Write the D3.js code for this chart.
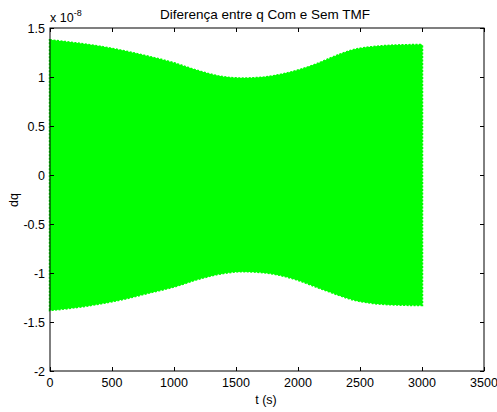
<!DOCTYPE html>
<html><head><meta charset="utf-8">
<script src="https://cdn.jsdelivr.net/npm/d3@7"></script>
<style>body{margin:0;background:#fff}svg{display:block}text{font-family:"Liberation Sans",Arial,sans-serif;fill:#000}</style>
</head><body>
<script>
// envelope of dq (units of 1e-8)
const tValues = [0,200,400,600,800,1000,1200,1400,1550,1700,1850,2000,2150,2300,2450,2600,2800,3000];
const upper   = [1.374,1.345,1.31,1.262,1.205,1.14,1.058,0.998,0.985,0.992,1.02,1.066,1.13,1.21,1.275,1.305,1.322,1.327];
const lower   = [-1.378,-1.35,-1.312,-1.262,-1.2,-1.138,-1.058,-1.0,-0.982,-0.99,-1.018,-1.07,-1.14,-1.21,-1.272,-1.305,-1.322,-1.327];
const xTicks = [0,500,1000,1500,2000,2500,3000,3500];
const yTicks = [-2,-1.5,-1,-0.5,0,0.5,1,1.5];

const W=497,H=412, L=50,R=484,T=28,B=371;
const FS=12.5;
const svg=d3.select("body").append("svg").attr("width",W).attr("height",H);
const x=d3.scaleLinear().domain([0,3500]).range([L,R]);
const y=d3.scaleLinear().domain([-2,1.5]).range([B,T]);
const data=tValues.map((t,i)=>({t,u:upper[i],l:lower[i]}));

const area=d3.area().x(d=>x(d.t)).y0(d=>y(d.l)).y1(d=>y(d.u)).curve(d3.curveMonotoneX);
svg.append("path").datum(data).attr("d",area).attr("fill","#00ff00")
  .attr("stroke","#00ff00").attr("stroke-width",2.5).attr("stroke-dasharray","2,1.5");
svg.append("path").datum(data).attr("d",area).attr("fill","#00ff00").attr("stroke","#00ff00").attr("stroke-width",1);

// axes box
const g=svg.append("g");
g.append("rect").attr("x",L).attr("y",T).attr("width",R-L).attr("height",B-T)
  .attr("fill","none").attr("stroke","#000").attr("stroke-width",1);
const tl=4;
xTicks.forEach(v=>{
  const px=Math.round(x(v))+0.5;
  g.append("line").attr("x1",px).attr("x2",px).attr("y1",B).attr("y2",B-tl).attr("stroke","#000");
  g.append("line").attr("x1",px).attr("x2",px).attr("y1",T).attr("y2",T+tl).attr("stroke","#000");
  g.append("text").attr("x",x(v)).attr("y",B+16).attr("text-anchor","middle").attr("font-size",FS).text(v);
});
yTicks.forEach(v=>{
  const py=Math.round(y(v))+0.5;
  g.append("line").attr("x1",L).attr("x2",L+tl).attr("y1",py).attr("y2",py).attr("stroke","#000");
  g.append("line").attr("x1",R).attr("x2",R-tl).attr("y1",py).attr("y2",py).attr("stroke","#000");
  g.append("text").attr("x",L-5).attr("y",y(v)+4.5).attr("text-anchor","end").attr("font-size",FS).text(v);
});
// exponent
const ex=g.append("text").attr("x",50).attr("y",22).attr("font-size",FS);
ex.append("tspan").text("x 10");
ex.append("tspan").attr("dy",-6).attr("font-size",9).text("-8");
// title and labels
svg.append("text").attr("x",265).attr("y",19).attr("text-anchor","middle").attr("font-size",13.5).text("Diferença entre q Com e Sem TMF");
svg.append("text").attr("x",266).attr("y",404).attr("text-anchor","middle").attr("font-size",FS).text("t (s)");
svg.append("text").attr("transform","translate(18,200) rotate(-90)").attr("text-anchor","middle").attr("font-size",FS).text("dq");
</script>
</body></html>
